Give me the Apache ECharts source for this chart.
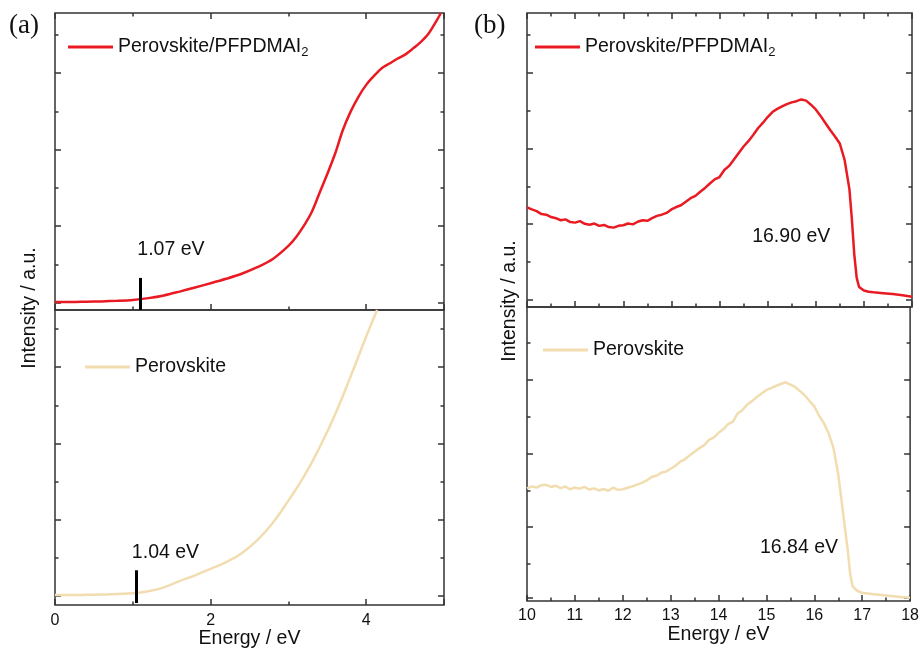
<!DOCTYPE html>
<html>
<head>
<meta charset="utf-8">
<title>UPS cutoff spectra</title>
<script src="https://cdn.jsdelivr.net/npm/echarts@6/dist/echarts.min.js"></script>
<style>
  html, body { margin: 0; padding: 0; background: #fff; }
  #chart { width: 922px; height: 650px; }
</style>
</head>
<body>
<div id="chart"></div>
<script>
const NAME_PF = 'Perovskite/PFPDMAI2'
const NAME_PV = 'Perovskite'
const RED = '#EA1A22'
const BEIGE = '#F2DDB0'
const FONT = 'Liberation Sans, Arial, sans-serif'

// (a) onset region, energy in eV, intensity in a.u. (0-100 per panel)
const onsetEnergyPF = [0, 0.2, 0.4, 0.6, 0.8, 1.0, 1.2, 1.4, 1.6, 1.8, 2.0, 2.2, 2.4, 2.6, 2.8, 3.0, 3.1, 3.2, 3.3, 3.4, 3.5, 3.6, 3.7, 3.8, 3.9, 4.0, 4.1, 4.2, 4.3, 4.4, 4.5, 4.6, 4.7, 4.8, 4.9, 4.96]
const onsetIntensityPF = [2.7, 2.7, 2.8, 2.9, 3.1, 3.4, 4.0, 4.9, 6.2, 7.6, 9.0, 10.5, 12.2, 14.4, 17.2, 21.6, 24.6, 28.4, 33.0, 39.4, 45.8, 52.6, 60.6, 66.8, 71.8, 75.8, 78.8, 81.4, 83.0, 84.6, 86.0, 88.0, 90.2, 93.0, 97.2, 100]
const onsetEnergyPV = [0, 0.2, 0.4, 0.6, 0.8, 1.0, 1.2, 1.4, 1.6, 1.8, 2.0, 2.2, 2.4, 2.6, 2.8, 3.0, 3.2, 3.4, 3.6, 3.8, 4.0, 4.14]
const onsetIntensityPV = [3.4, 3.4, 3.5, 3.6, 3.8, 4.0, 4.7, 6.0, 8.1, 10.1, 12.3, 14.6, 17.6, 22.0, 27.9, 35.4, 43.6, 53.4, 64.6, 77.5, 91.0, 100]

// (b) secondary electron cutoff region
const cutoffEnergyPF = [10.0, 10.1, 10.2, 10.3, 10.4, 10.5, 10.6, 10.7, 10.8, 10.9, 11.0, 11.1, 11.2, 11.3, 11.4, 11.5, 11.6, 11.7, 11.8, 11.9, 12.0, 12.1, 12.2, 12.3, 12.4, 12.5, 12.6, 12.7, 12.8, 12.9, 13.0, 13.1, 13.2, 13.3, 13.4, 13.5, 13.6, 13.7, 13.8, 13.9, 14.0, 14.1, 14.2, 14.3, 14.4, 14.5, 14.6, 14.7, 14.8, 14.9, 15.0, 15.1, 15.2, 15.3, 15.4, 15.5, 15.6, 15.7, 15.8, 15.9, 16.0, 16.1, 16.2, 16.3, 16.4, 16.5, 16.6, 16.7, 16.75, 16.8, 16.85, 16.9, 17.0, 17.1, 17.2, 17.4, 17.6, 17.8, 18.0]
const cutoffIntensityPF = [33.9, 33.2, 32.6, 31.6, 31.4, 30.6, 30.2, 29.5, 29.8, 28.9, 28.7, 29.2, 28.3, 28.0, 28.4, 27.6, 27.9, 27.2, 27.0, 27.6, 27.8, 28.4, 28.1, 29.0, 29.5, 29.3, 30.2, 31.0, 31.4, 32.0, 33.2, 34.0, 34.6, 35.8, 37.0, 37.8, 39.2, 40.5, 42.0, 43.4, 44.2, 46.6, 48.0, 50.2, 52.4, 54.6, 56.4, 58.5, 60.8, 62.6, 64.6, 66.3, 67.4, 68.2, 69.0, 69.6, 70.0, 70.6, 70.2, 68.8, 67.2, 65.0, 62.6, 60.2, 58.0, 55.6, 50.0, 40.0, 30.0, 18.0, 10.0, 6.8, 5.6, 5.2, 5.0, 4.7, 4.4, 4.0, 3.5]
const cutoffEnergyPV = [10.0, 10.1, 10.2, 10.3, 10.4, 10.5, 10.6, 10.7, 10.8, 10.9, 11.0, 11.1, 11.2, 11.3, 11.4, 11.5, 11.6, 11.7, 11.8, 11.9, 12.0, 12.1, 12.2, 12.3, 12.4, 12.5, 12.6, 12.7, 12.8, 12.9, 13.0, 13.1, 13.2, 13.3, 13.4, 13.5, 13.6, 13.7, 13.8, 13.9, 14.0, 14.1, 14.2, 14.3, 14.4, 14.5, 14.6, 14.7, 14.8, 14.9, 15.0, 15.1, 15.2, 15.3, 15.4, 15.5, 15.6, 15.7, 15.8, 15.9, 16.0, 16.1, 16.2, 16.3, 16.4, 16.5, 16.6, 16.7, 16.75, 16.8, 16.9, 17.0, 17.2, 17.5, 17.8, 18.0]
const cutoffIntensityPV = [38.3, 39.0, 38.6, 39.4, 39.5, 38.8, 39.2, 38.4, 38.9, 38.0, 38.6, 38.2, 38.8, 37.9, 38.3, 37.6, 38.1, 37.5, 38.6, 37.8, 38.0, 38.5, 39.0, 39.6, 40.2, 41.0, 42.2, 42.6, 43.6, 44.0, 45.0, 46.0, 47.4, 48.2, 49.6, 50.8, 52.0, 53.0, 54.8, 55.6, 57.2, 58.4, 60.2, 61.0, 63.8, 65.0, 66.8, 68.0, 69.4, 70.6, 71.8, 72.4, 73.2, 73.8, 74.4, 73.6, 72.8, 71.4, 70.0, 68.0, 66.2, 63.0, 60.5, 57.0, 52.0, 43.0, 30.0, 17.0, 9.0, 5.0, 3.4, 2.8, 2.4, 1.9, 1.4, 1.1]

// y tick positions per panel (major / minor alternate)
const yMajorUL = [2.4, 28.2, 54.0, 79.8]
const yMinorUL = [15.3, 41.1, 66.9, 92.7]
const yMajorLL = [3.0, 28.9, 54.8, 80.6]
const yMinorLL = [15.9, 41.8, 67.7, 93.6]
const yMajorUR = [2.4, 28.2, 53.7, 79.7]
const yMinorUR = [15.3, 40.9, 66.8, 92.5]
const yMajorLR = [1.0, 25.2, 50.0, 75.2]
const yMinorLR = [12.6, 37.4, 62.6, 87.8]

// onset markers and labels
const onsetMarkPF = { x: 1.09, y0: 0, y1: 10.8, label: '1.07 eV', lx: 1.49, ly: 20.2 }
const onsetMarkPV = { x: 1.05, y0: 0.7, y1: 11.8, label: '1.04 eV', lx: 1.42, ly: 17.9 }
const cutoffLabelPF = { label: '16.90 eV', lx: 15.49, ly: 24.1 }
const cutoffLabelPV = { label: '16.84 eV', lx: 15.68, ly: 18.0 }

const zip = (xs, ys) => xs.map((x, i) => [x, ys[i]])

const grids = [
    { left: 55, width: 389, top: 13, height: 297 },   // upper (a)
    { left: 55, width: 389, top: 310, height: 296 },  // lower (a)
    { left: 527, width: 385, top: 13, height: 294 },  // upper (b)
    { left: 527, width: 385, top: 307, height: 294 }  // lower (b)
].map(g => Object.assign({ show: true, borderColor: '#333', borderWidth: 1.5, backgroundColor: 'transparent' }, g))

const tickStyle = { color: '#333', width: 1.5 }

const xAxisFor = (gridIndex, position, withLabels, left) => ({
    type: 'value',
    gridIndex,
    position,
    min: left ? 0 : 10,
    max: left ? 5 : 18,
    interval: left ? 2 : 1,
    axisLine: { show: false, onZero: false },
    axisTick: { show: true, inside: true, length: 6, lineStyle: tickStyle },
    minorTick: { show: true, splitNumber: 2, length: 3.5, lineStyle: tickStyle },
    splitLine: { show: false },
    axisLabel: { show: withLabels, margin: 7, color: '#111', fontSize: 16, fontFamily: FONT,
        showMinLabel: true, showMaxLabel: !left },
    name: withLabels ? 'Energy / eV' : '',
    nameLocation: 'middle',
    nameGap: left ? 22 : 24,
    nameTextStyle: { fontSize: 19.5, color: '#111', fontFamily: FONT }
})

const yAxisFor = (gridIndex, position, values, len) => ({
    type: 'value',
    gridIndex,
    position,
    min: 0,
    max: 100,
    axisLine: { show: false, onZero: false },
    axisTick: { show: true, inside: true, length: len, customValues: values, lineStyle: tickStyle },
    axisLabel: { show: false },
    splitLine: { show: false }
})

const yTicks = [[yMajorUL, yMinorUL], [yMajorLL, yMinorLL], [yMajorUR, yMinorUR], [yMajorLR, yMinorLR]]
const yAxes = []
yTicks.forEach(([maj, min], g) => {
    yAxes.push(yAxisFor(g, 'left', maj, 6))
    yAxes.push(yAxisFor(g, 'left', min, 3.5))
    yAxes.push(yAxisFor(g, 'right', maj, 6))
    yAxes.push(yAxisFor(g, 'right', min, 3.5))
})

const xAxes = [
    xAxisFor(0, 'bottom', false, true),   // 0
    xAxisFor(0, 'top', false, true),      // 1
    xAxisFor(1, 'bottom', true, true),    // 2
    xAxisFor(2, 'bottom', false, false),  // 3
    xAxisFor(2, 'top', false, false),     // 4
    xAxisFor(3, 'bottom', true, false)    // 5
]

const annoLabel = a => ({
    symbol: 'circle',
    symbolSize: 0,
    silent: true,
    label: { show: true, position: 'inside', formatter: p => p.name, color: '#111', fontSize: 19.5, fontFamily: FONT },
    data: [{ name: a.label, coord: [a.lx, a.ly] }]
})

const markerLine = m => ({
    symbol: 'none',
    silent: true,
    label: { show: false },
    lineStyle: { color: '#000', width: 3, type: 'solid' },
    data: [[{ coord: [m.x, m.y0] }, { coord: [m.x, m.y1] }]]
})

const lineSeries = (name, color, xIndex, yIndex, data, extra) => Object.assign({
    name,
    type: 'line',
    xAxisIndex: xIndex,
    yAxisIndex: yIndex,
    data,
    showSymbol: false,
    color,
    lineStyle: { color, width: 2.5 },
    itemStyle: { color }
}, extra)

const series = [
    lineSeries(NAME_PF, RED, 0, 0, zip(onsetEnergyPF, onsetIntensityPF),
        { smooth: 0.3, markLine: markerLine(onsetMarkPF), markPoint: annoLabel(onsetMarkPF) }),
    lineSeries(NAME_PV, BEIGE, 2, 4, zip(onsetEnergyPV, onsetIntensityPV),
        { smooth: 0.5, markLine: markerLine(onsetMarkPV), markPoint: annoLabel(onsetMarkPV) }),
    lineSeries(NAME_PF, RED, 3, 8, zip(cutoffEnergyPF, cutoffIntensityPF),
        { markPoint: annoLabel(cutoffLabelPF) }),
    lineSeries(NAME_PV, BEIGE, 5, 12, zip(cutoffEnergyPV, cutoffIntensityPV),
        { markPoint: annoLabel(cutoffLabelPV) })
]

const legendFmt = name => name === NAME_PF ? '{n|Perovskite/PFPDMAI}{s|2}' : '{n|' + name + '}'
const legendAt = (name, left, top) => ({
    data: [name],
    left,
    top,
    padding: 0,
    icon: 'rect',
    itemWidth: 45,
    itemHeight: 3,
    selectedMode: false,
    formatter: legendFmt,
    textStyle: {
        color: '#111',
        rich: {
            n: { fontSize: 19.5, fontFamily: FONT, color: '#111' },
            s: { fontSize: 13, fontFamily: FONT, color: '#111', padding: [10, 0, 0, 0] }
        }
    }
})

const chart = echarts.init(document.getElementById('chart'))
chart.setOption({
    animation: false,
    backgroundColor: '#fff',
    grid: grids,
    xAxis: xAxes,
    yAxis: yAxes,
    legend: [
        legendAt(NAME_PF, 68, 37),
        legendAt(NAME_PV, 85, 357),
        legendAt(NAME_PF, 535, 37),
        legendAt(NAME_PV, 543, 340)
    ],
    graphic: [
        { type: 'text', left: 9, top: 12, style: { text: '(a)', fontSize: 27, fontFamily: 'Liberation Serif, Times New Roman, serif', fill: '#111' } },
        { type: 'text', left: 474, top: 12, style: { text: '(b)', fontSize: 27, fontFamily: 'Liberation Serif, Times New Roman, serif', fill: '#111' } },
        { type: 'text', x: 30, y: 308, rotation: Math.PI / 2,
          style: { text: 'Intensity / a.u.', fontSize: 19.5, fontFamily: FONT, fill: '#111', align: 'center', verticalAlign: 'middle' } },
        { type: 'text', x: 510, y: 301, rotation: Math.PI / 2,
          style: { text: 'Intensity / a.u.', fontSize: 19.5, fontFamily: FONT, fill: '#111', align: 'center', verticalAlign: 'middle' } }
    ],
    series
})
window.addEventListener('resize', () => chart.resize())
</script>
</body>
</html>
